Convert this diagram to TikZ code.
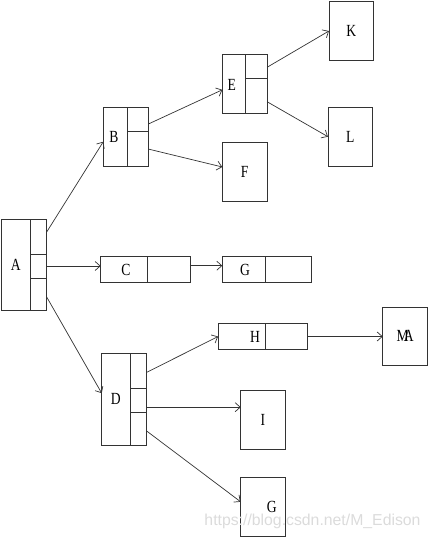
\documentclass[tikz,border=0pt]{standalone}
\usepackage{fontspec}
\setmainfont{Liberation Serif}
\newfontfamily\labfont[FakeStretch=0.8]{Liberation Serif}
\newfontfamily\wmfont{Liberation Sans}
\usetikzlibrary{arrows.meta,calc}
\begin{document}
\begin{tikzpicture}[x=1pt,y=-1pt,
  box/.style={draw=black!80, line width=0.8pt, inner sep=0pt, outer sep=0pt},
  part/.style={draw=black!80, line width=0.8pt},
  arr/.style={draw=black!80, line width=0.7pt, -{Straight Barb[length=5pt,width=9pt]}},
  lab/.style={font=\labfont\fontsize{17}{17}\selectfont, inner sep=0pt}]
\useasboundingbox (0,0) rectangle (429,538);
% A
\node[box, minimum width=45pt, minimum height=91pt] (A) at (24.2,264.5) {};
\draw[part] ($(A.north west)+(28.3,0)$) -- ($(A.south west)+(28.3,0)$);
\draw[part] ($(A.north west)+(28.3,35.3)$) -- ($(A.north east)+(0,35.3)$);
\draw[part] ($(A.north west)+(28.3,59.3)$) -- ($(A.north east)+(0,59.3)$);
\node[lab] (Alab) at ($(A.west)+(14.2,0)$) {A};
% B
\node[box, minimum width=45pt, minimum height=58.7pt] (B) at (125.8,136.7) {};
\draw[part] ($(B.north west)+(24,0)$) -- ($(B.south west)+(24,0)$);
\draw[part] ($(B.north west)+(24,24.4)$) -- ($(B.north east)+(0,24.4)$);
\node[lab] (Blab) at ($(B.west)+(10.7,0.5)$) {B};
% E
\node[box, minimum width=44.7pt, minimum height=59pt] (E) at (244.7,83.8) {};
\draw[part] ($(E.north west)+(23,0)$) -- ($(E.south west)+(23,0)$);
\draw[part] ($(E.north west)+(23,24.4)$) -- ($(E.north east)+(0,24.4)$);
\node[lab] (Elab) at ($(E.west)+(9.4,1.2)$) {E};
% K, L, F
\node[box, minimum width=44.7pt, minimum height=58.6pt, font=\labfont\fontsize{17}{17}\selectfont] (K) at (351.3,31) {K};
\node[box, minimum width=44.7pt, minimum height=58.7pt, font=\labfont\fontsize{17}{17}\selectfont] (L) at (350.3,136.7) {L};
\node[box, minimum width=44.7pt, minimum height=58.6pt, font=\labfont\fontsize{17}{17}\selectfont] (F) at (244.7,172) {F};
% C
\node[box, minimum width=89.3pt, minimum height=26pt] (C) at (145.3,269.7) {};
\draw[part] ($(C.north west)+(47,0)$) -- ($(C.south west)+(47,0)$);
\node[lab] (Clab) at ($(C.west)+(25.3,0.3)$) {C};
% G1
\node[box, minimum width=89pt, minimum height=26pt] (G1) at (266.8,269.7) {};
\draw[part] ($(G1.north west)+(43.4,0)$) -- ($(G1.south west)+(43.4,0)$);
\node[lab] (G1lab) at ($(G1.west)+(22.7,0.3)$) {G};
% D
\node[box, minimum width=45pt, minimum height=91.7pt] (D) at (124.2,399.2) {};
\draw[part] ($(D.north west)+(28.3,0)$) -- ($(D.south west)+(28.3,0)$);
\draw[part] ($(D.north west)+(28.3,35)$) -- ($(D.north east)+(0,35)$);
\draw[part] ($(D.north west)+(28.3,59.4)$) -- ($(D.north east)+(0,59.4)$);
\node[lab] (Dlab) at ($(D.west)+(14,0)$) {D};
% H
\node[box, minimum width=89.3pt, minimum height=25.6pt] (H) at (262.7,336.5) {};
\draw[part] ($(H.north west)+(47.3,0)$) -- ($(H.south west)+(47.3,0)$);
\node[lab] (Hlab) at ($(H.west)+(37,0.5)$) {H};
% MA, I, G2
\node[box, minimum width=45pt, minimum height=58.7pt, font=\labfont\fontsize{17}{17}\selectfont] (MA) at (405.2,336.3) {M\kern-5pt A};
\node[box, minimum width=44.6pt, minimum height=58.6pt, font=\labfont\fontsize{17}{17}\selectfont] (I) at (263,420) {I};
\node[box, minimum width=44.6pt, minimum height=58.3pt] (G2) at (263,506.8) {};
\node[lab] (G2lab) at ($(G2.center)+(8.7,0)$) {G};
% arrows
\draw[arr] ([yshift=-13pt]A.north east) -- ([yshift=-5pt]B.west);
\draw[arr] ([yshift=-1.5pt]A.east) -- ([yshift=-1.5pt]A.east -| C.west);
\draw[arr] ([yshift=13pt]A.south east) -- ([yshift=6pt]D.west);
\draw[arr] ([yshift=-16.7pt]B.north east) -- ([yshift=-6pt]E.west);
\draw[arr] ([yshift=17pt]B.south east) -- ([yshift=5pt]F.west);
\draw[arr] ([yshift=-13pt]E.north east) -- (K.west);
\draw[arr] ([yshift=11.6pt]E.south east) -- (L.west);
\draw[arr] ([yshift=4pt]C.east) -- ([yshift=4pt]C.east -| G1.west);
\draw[arr] ([yshift=-19pt]D.north east) -- (H.west);
\draw[arr] (H.east) -- (H.east -| MA.west);
\draw[arr] ([yshift=-8pt]D.east) -- ([yshift=-8pt]D.east -| I.west);
\draw[arr] ([yshift=14pt]D.south east) -- ([yshift=5pt]G2.west);
% watermark
\node[font=\wmfont\fontsize{15.8}{15.8}\selectfont, text=gray!28, inner sep=0pt, anchor=base] (wm) at (312.5,525.7) {https://blog.csdn.net/M\_Edison};
\end{tikzpicture}
\end{document}
